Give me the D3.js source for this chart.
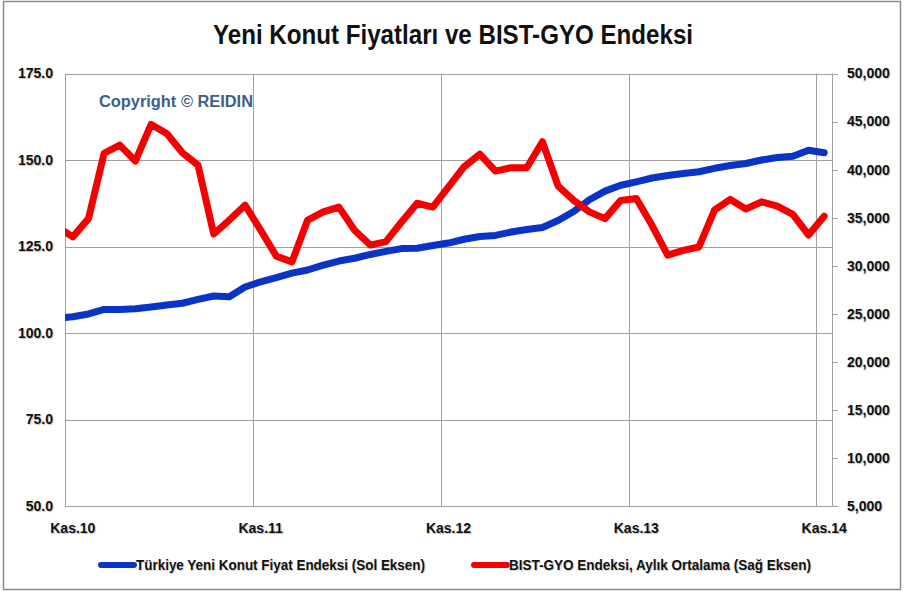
<!DOCTYPE html>
<html>
<head>
<meta charset="utf-8">
<script src="https://cdn.jsdelivr.net/npm/d3@7"></script>
<style>
  body { margin: 0; background: #fff; }
  text { font-family: "Liberation Sans Narrow", "Liberation Sans", sans-serif; font-weight: bold; }
  .lbl { font-family: "Liberation Sans", sans-serif; font-size: 14px; fill: #111; text-shadow: 1px 1px 1px rgba(0,0,0,0.25); }
</style>
</head>
<body>
<svg id="chart" width="905" height="591"></svg>
<script>
// monthly categories, index 0 = Kas.10 ... 48 = Kas.14 (index -1 = Eki.10, partly clipped at the left edge)
const startIndex = -1;
const tickLabels = ["Kas.10", "Kas.11", "Kas.12", "Kas.13", "Kas.14"];
const tickIndex = [0, 12, 24, 36, 48];

// Türkiye Yeni Konut Fiyat Endeksi (left axis)
const konutValues = [104.2, 104.7, 105.5, 106.8, 106.8, 107.0, 107.5, 108.1, 108.6, 109.7, 110.7,
  110.5, 113.3, 114.8, 116.0, 117.3, 118.2, 119.6, 120.8, 121.6, 122.7, 123.6, 124.4,
  124.5, 125.3, 126.0, 127.1, 127.9, 128.2, 129.2, 129.9, 130.5, 132.5, 135.1, 138.5,
  141.0, 142.7, 143.7, 144.8, 145.5, 146.1, 146.6, 147.6, 148.4, 149.0, 150.0, 150.7,
  151.1, 152.8, 152.1];

// BIST-GYO Endeksi, aylık ortalama (right axis)
const gyoValues = [34050, 33000, 34900, 41700, 42550, 40900, 44700, 43750, 41750, 40450, 33300,
  34750, 36300, 33700, 31000, 30400, 34750, 35600, 36100, 33700, 32150, 32500, 34550,
  36500, 36100, 38200, 40300, 41600, 39850, 40200, 40200, 42900, 38300, 36800, 35600,
  34900, 36800, 37000, 34200, 31100, 31600, 31950, 35800, 36900, 35900, 36650, 36200,
  35350, 33200, 35150];

const leftTicks = [50, 75, 100, 125, 150, 175];
const rightTicks = d3.range(5000, 50001, 5000);

const svg = d3.select('#chart');
const plot = { left: 65, right: 832, top: 73.5, bottom: 506 };

// outer frame
svg.append('rect').attr('x', 3.5).attr('y', 1.5).attr('width', 897).attr('height', 588)
  .attr('fill', '#fff').attr('stroke', '#8a8a8a').attr('stroke-width', 1.5);

const x = d3.scaleLinear().domain([-0.5, 48.5]).range([plot.left, plot.right]);
const yLeft = d3.scaleLinear().domain([50, 175]).range([plot.bottom, plot.top]);
const yRight = d3.scaleLinear().domain([5000, 50000]).range([plot.bottom, plot.top]);

// title
svg.append('text').attr('x', 453).attr('y', 44).attr('text-anchor', 'middle')
  .attr('font-size', 27).attr('textLength', 480).attr('lengthAdjust', 'spacingAndGlyphs')
  .attr('fill', '#111').text('Yeni Konut Fiyatları ve BIST-GYO Endeksi');

// gridlines
const grid = svg.append('g').attr('stroke', '#a0a0a0').attr('stroke-width', 1);
grid.selectAll('.h').data(leftTicks).join('line')
  .attr('x1', plot.left).attr('x2', plot.right)
  .attr('y1', d => Math.round(yLeft(d)) + 0.5).attr('y2', d => Math.round(yLeft(d)) + 0.5);
grid.selectAll('.v').data(tickIndex).join('line')
  .attr('x1', d => Math.round(x(d - 0.5)) + 0.5).attr('x2', d => Math.round(x(d - 0.5)) + 0.5)
  .attr('y1', plot.top).attr('y2', plot.bottom);
grid.append('line').attr('x1', plot.right + 0.5).attr('x2', plot.right + 0.5).attr('y1', plot.top).attr('y2', plot.bottom);

// right axis tick marks
svg.append('g').attr('stroke', '#a0a0a0').selectAll('line').data(rightTicks).join('line')
  .attr('x1', plot.right).attr('x2', plot.right + 6)
  .attr('y1', d => Math.round(yRight(d)) + 0.5).attr('y2', d => Math.round(yRight(d)) + 0.5);

// axis labels
svg.append('g').selectAll('text').data(leftTicks).join('text').attr('class', 'lbl')
  .attr('x', 53).attr('y', d => yLeft(d)).attr('dy', '0.35em').attr('text-anchor', 'end')
  .text(d => d3.format('.1f')(d));
svg.append('g').selectAll('text').data(rightTicks).join('text').attr('class', 'lbl')
  .attr('x', 847).attr('y', d => yRight(d)).attr('dy', '0.35em')
  .text(d => d3.format(',')(d));
svg.append('g').selectAll('text').data(tickIndex).join('text').attr('class', 'lbl')
  .attr('x', d => x(d)).attr('y', 528).attr('dy', '0.35em').attr('text-anchor', 'middle')
  .attr('font-size', 14)
  .text((d, i) => tickLabels[i]);

// copyright
svg.append('text').attr('x', 99).attr('y', 107).attr('font-size', 16)
  .attr('textLength', 154).attr('lengthAdjust', 'spacingAndGlyphs')
  .attr('fill', '#3d6088').text('Copyright © REIDIN');

// lines
svg.append('clipPath').attr('id', 'plotClip').append('rect')
  .attr('x', plot.left).attr('y', plot.top - 10).attr('width', plot.right - plot.left + 10)
  .attr('height', plot.bottom - plot.top + 10);

const lines = svg.append('g').attr('clip-path', 'url(#plotClip)');
const konutLine = d3.line().x((d, i) => x(i + startIndex)).y(d => yLeft(d));
const gyoLine = d3.line().x((d, i) => x(i + startIndex)).y(d => yRight(d));

lines.append('path').datum(konutValues).attr('d', konutLine)
  .attr('fill', 'none').attr('stroke', '#0a34c8').attr('stroke-width', 7)
  .attr('stroke-linejoin', 'round').attr('stroke-linecap', 'round');
lines.append('path').datum(gyoValues).attr('d', gyoLine)
  .attr('fill', 'none').attr('stroke', '#f50000').attr('stroke-width', 7)
  .attr('stroke-linejoin', 'round').attr('stroke-linecap', 'round');

// legend
const legend = [
  { name: 'Türkiye Yeni Konut Fiyat Endeksi (Sol Eksen)', color: '#0a34c8', x: 100, w: 289 },
  { name: 'BIST-GYO Endeksi, Aylık Ortalama (Sağ Eksen)', color: '#f50000', x: 473, w: 302 }
];
const lg = svg.append('g').selectAll('g').data(legend).join('g')
  .attr('transform', d => `translate(${d.x},565)`);
lg.append('line').attr('x1', 1).attr('x2', 34).attr('stroke', d => d.color)
  .attr('stroke-width', 6).attr('stroke-linecap', 'round');
lg.append('text').attr('x', 36).attr('dy', '0.35em').attr('font-size', 15)
  .attr('textLength', d => d.w).attr('lengthAdjust', 'spacingAndGlyphs')
  .attr('fill', '#111').style('text-shadow', '1px 1px 1px rgba(0,0,0,0.2)')
  .text(d => d.name);
</script>
</body>
</html>
